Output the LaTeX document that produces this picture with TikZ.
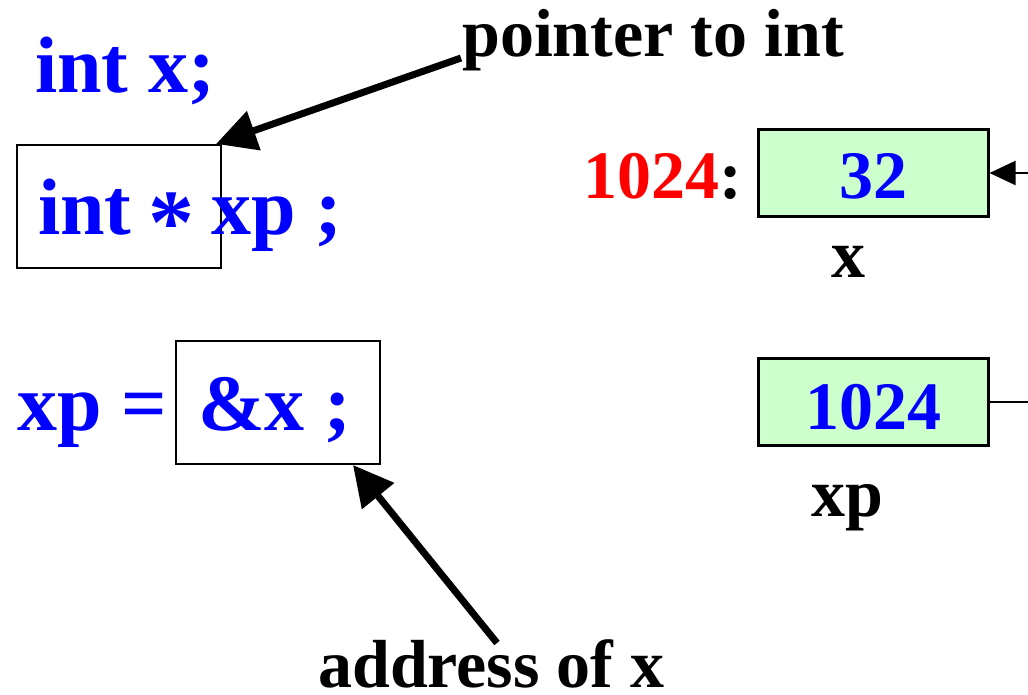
\documentclass[tikz,border=0pt]{standalone}
\usepackage{fontspec}
\setmainfont{Liberation Serif}
\usetikzlibrary{arrows.meta}
\definecolor{cellgreen}{HTML}{CCFFCC}
\definecolor{codeblue}{HTML}{0000FF}
\definecolor{addrred}{HTML}{FF0000}

\begin{document}
\begin{tikzpicture}[x=1pt,y=-1pt,
  code/.style={text=codeblue,font=\fontsize{80}{96}\selectfont\bfseries,inner sep=0pt,anchor=base west},
  note/.style={text=black,font=\fontsize{68}{80}\selectfont\bfseries,inner sep=0pt,anchor=base west},
  frame/.style={draw=black,line width=2.2pt,minimum width=204pt,minimum height=123pt,inner sep=0pt},
  cell/.style={draw=black,fill=cellgreen,line width=3pt,minimum width=230pt,minimum height=87pt,inner sep=0pt},
  callout/.style={line width=7pt,-{Triangle[length=40pt,width=40pt]}},
  link/.style={line width=2.2pt}]
\useasboundingbox (0,0) rectangle (1028,695);

% boxes around the highlighted code
\node[frame] (typebox) at (119,206.5) {};
\node[frame] (addrbox) at (278,402.5) {};

% source code lines
\node[code] (decl) at (35,93) {int x;};
\node[code] (ptrdecl) at (38,235) {int \makebox[40pt]{\raisebox{-18pt}{\scalebox{1.15}{*}}} xp ;};
\node[code] (assign) at (17,430) {xp =};
\node[code] (amp) at (198,430) {\&x ;};

% annotations
\node[note] (ptrnote) at (462,57) {pointer to int};
\node[note] (addrnote) at (318,687) {address of x};
\coordinate (ptrtail) at (461,58);
\coordinate (ptrtip) at ([xshift=-6pt]typebox.north east);
\coordinate (addrtail) at (497,643);
\coordinate (addrtip) at (353,465);

\draw[callout] (ptrtail) -- (ptrtip);
\draw[callout] (addrtail) -- (addrtip);

% memory cells
\node[cell] (xcell) at (873,173) {};
\node[cell] (xpcell) at (873,402) {};
\node[code,font=\fontsize{68}{80}\selectfont\bfseries,anchor=base] (xval) at (873,199) {32};
\node[code,font=\fontsize{68}{80}\selectfont\bfseries,anchor=base] (xpval) at (873,429) {1024};
\node[note] (addr) at (583,199) {\textcolor{addrred}{1024}:};
\node[note,anchor=base] (xname) at (848,277) {x};
\node[note] (xpname) at (811,516) {xp};

% pointer from xp back to x
\coordinate (xin) at (1028,173);
\coordinate (xpout) at (1028,402);
\draw[link,-{Triangle[length=26pt,width=24pt]}] (xin) -- (xcell.east);
\draw[link] (xpcell.east) -- (xpout);
\end{tikzpicture}
\end{document}
